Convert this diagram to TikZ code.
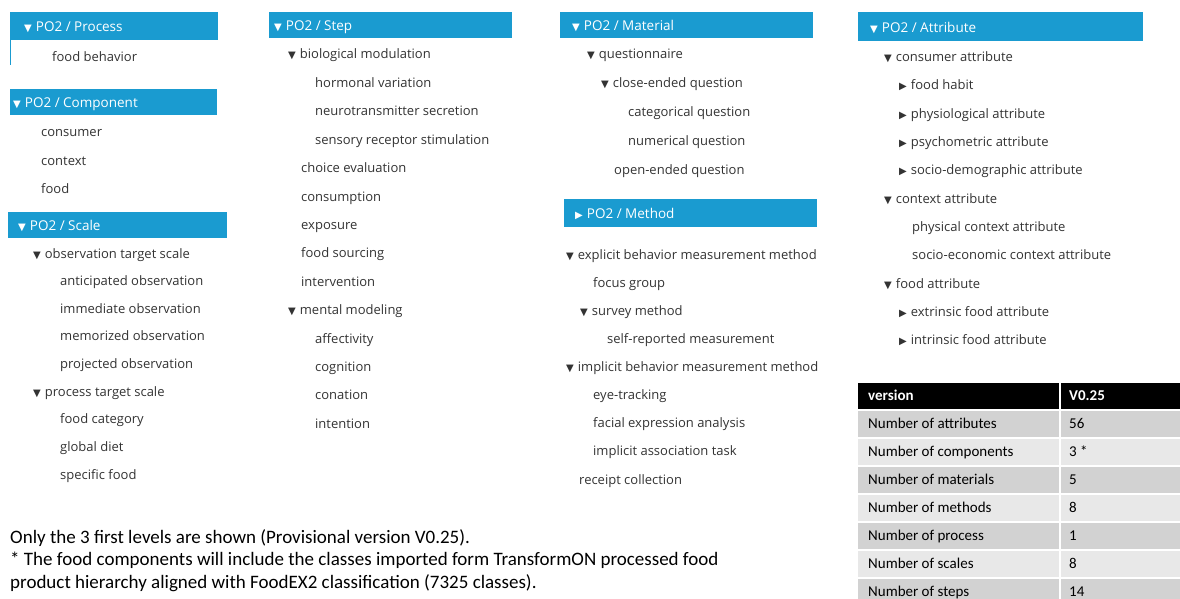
\documentclass[tikz,border=0pt]{standalone}
\usepackage{fontspec}
\setmainfont{Open Sans}
\newfontfamily\calfont{Carlito}
\newfontfamily\symfont{DejaVu Sans}
\definecolor{hdr}{HTML}{1A9BD0}
\definecolor{tx}{HTML}{333333}
\definecolor{rowA}{HTML}{D2D2D2}
\definecolor{rowB}{HTML}{E8E8E8}
\newcommand\dn{{\symfont\fontsize{10}{10}\selectfont ▼}\hspace{4pt}}
\newcommand\rt{{\symfont\fontsize{10}{10}\selectfont ▶}\hspace{4pt}}
\begin{document}
\begin{tikzpicture}[x=1pt,y=-1pt,
  bar/.style={fill=hdr},
  htxt/.style={anchor=mid west,inner sep=0,yshift=-2.5pt,text=white,font=\fontsize{13.5}{14}\selectfont},
  item/.style={anchor=mid west,inner sep=0,yshift=-2.5pt,text=tx,font=\fontsize{13}{14}\selectfont},
  cell/.style={anchor=mid west,inner sep=0,yshift=-2pt,text=black,font=\calfont\fontsize{15}{16}\selectfont},
  hcell/.style={anchor=mid west,inner sep=0,yshift=-2pt,text=white,font=\calfont\bfseries\fontsize{15}{16}\selectfont},
  note/.style={anchor=mid west,inner sep=0,yshift=-3pt,text=black,font=\calfont\fontsize{19}{20}\selectfont}]
\useasboundingbox[fill=white] (0,0) rectangle (1180,599);

% ---- Process
\fill[bar] (10,12) rectangle (218,40);
\draw[hdr,line width=1.2] (10.6,40) -- (10.6,65);
\node[htxt] (hproc) at (24,26) {\dn PO2 / Process};
\node[item] (p1) at (52,56) {food behavior};

% ---- Component
\fill[bar] (10,89) rectangle (217,115);
\node[htxt] (hcomp) at (13,102) {\dn PO2 / Component};
\node[item] (c1) at (41,131) {consumer};
\node[item] (c2) at (41,160) {context};
\node[item] (c3) at (41,188) {food};

% ---- Scale
\fill[bar] (8,212) rectangle (227,238);
\node[htxt] (hscale) at (18,225) {\dn PO2 / Scale};
\node[item] (s1) at (33,253) {\dn observation target scale};
\node[item] (s2) at (60,280) {anticipated observation};
\node[item] (s3) at (60,308) {immediate observation};
\node[item] (s4) at (60,335) {memorized observation};
\node[item] (s5) at (60,363) {projected observation};
\node[item] (s6) at (33,391) {\dn process target scale};
\node[item] (s7) at (60,418) {food category};
\node[item] (s8) at (60,446) {global diet};
\node[item] (s9) at (60,474) {specific food};

% ---- Step
\fill[bar] (269,12) rectangle (512,38);
\node[htxt] (hstep) at (274,25) {\dn PO2 / Step};
\node[item] (t1) at (288,53) {\dn biological modulation};
\node[item] (t2) at (315,82) {hormonal variation};
\node[item] (t3) at (315,110) {neurotransmitter secretion};
\node[item] (t4) at (315,139) {sensory receptor stimulation};
\node[item] (t5) at (301,167) {choice evaluation};
\node[item] (t6) at (301,196) {consumption};
\node[item] (t7) at (301,224) {exposure};
\node[item] (t8) at (301,252) {food sourcing};
\node[item] (t9) at (301,281) {intervention};
\node[item] (t10) at (288,309) {\dn mental modeling};
\node[item] (t11) at (315,338) {affectivity};
\node[item] (t12) at (315,366) {cognition};
\node[item] (t13) at (315,394) {conation};
\node[item] (t14) at (315,423) {intention};

% ---- Material
\fill[bar] (560,12) rectangle (813,38);
\node[htxt] (hmat) at (572,25) {\dn PO2 / Material};
\node[item] (m1) at (587,53) {\dn questionnaire};
\node[item] (m2) at (601,82) {\dn close-ended question};
\node[item] (m3) at (628,111) {categorical question};
\node[item] (m4) at (628,140) {numerical question};
\node[item] (m5) at (614,169) {open-ended question};

% ---- Method
\fill[bar] (564,199) rectangle (817,227);
\node[htxt] (hmeth) at (575,213) {\rt PO2 / Method};
\node[item] (d1) at (566,254) {\dn explicit behavior measurement method};
\node[item] (d2) at (593,282) {focus group};
\node[item] (d3) at (580,310) {\dn survey method};
\node[item] (d4) at (607,338) {self-reported measurement};
\node[item] (d5) at (566,366) {\dn implicit behavior measurement method};
\node[item] (d6) at (593,394) {eye-tracking};
\node[item] (d7) at (593,422) {facial expression analysis};
\node[item] (d8) at (593,450) {implicit association task};
\node[item] (d9) at (579,479) {receipt collection};

% ---- Attribute
\fill[bar] (858,12) rectangle (1143,41);
\node[htxt] (hatt) at (870,27) {\dn PO2 / Attribute};
\node[item] (a1) at (884,56) {\dn consumer attribute};
\node[item] (a2) at (899,84) {\rt food habit};
\node[item] (a3) at (899,113) {\rt physiological attribute};
\node[item] (a4) at (899,141) {\rt psychometric attribute};
\node[item] (a5) at (899,169) {\rt socio-demographic attribute};
\node[item] (a6) at (884,198) {\dn context attribute};
\node[item] (a7) at (912,226) {physical context attribute};
\node[item] (a8) at (912,254) {socio-economic context attribute};
\node[item] (a9) at (884,283) {\dn food attribute};
\node[item] (a10) at (899,311) {\rt extrinsic food attribute};
\node[item] (a11) at (899,339) {\rt intrinsic food attribute};

% ---- Table
\fill[black] (858,383) rectangle (1180,409);
\fill[white] (1058.5,383) rectangle (1060.5,409);
\node[hcell] (th1) at (868,396) {version};
\node[hcell] (th2) at (1069,396) {V0.25};
\foreach \i/\lab/\val/\col in {0/attributes/56/rowA,1/components/3 */rowB,2/materials/5/rowA,3/methods/8/rowB,4/process/1/rowA,5/scales/8/rowB,6/steps/14/rowA}{
  \pgfmathsetmacro{\ya}{411+28*\i}
  \pgfmathsetmacro{\yb}{min(437+28*\i,599)}
  \fill[\col] (858,\ya) rectangle (1058.5,\yb);
  \fill[\col] (1060.5,\ya) rectangle (1180,\yb);
  \node[cell] (tl\i) at (868,{424+28*\i}) {Number of \lab};
  \node[cell] (tv\i) at (1069,{424+28*\i}) {\val};
}

% ---- Notes
\node[note] (n1) at (10,538) {Only the 3 first levels are shown (Provisional version V0.25).};
\node[note] (n2) at (10,560) {* The food components will include the classes imported form TransformON processed food};
\node[note] (n3) at (10,583) {product hierarchy aligned with FoodEX2 classification (7325 classes).};
\end{tikzpicture}
\end{document}
